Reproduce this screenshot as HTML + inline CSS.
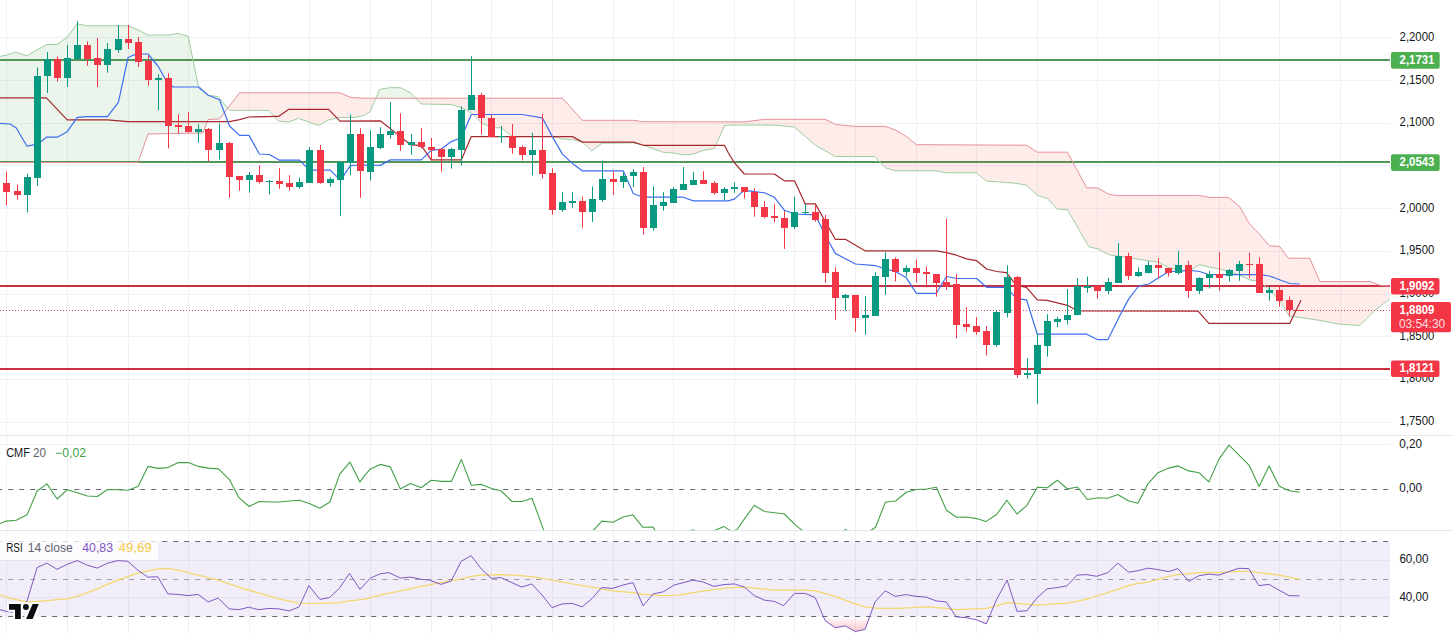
<!DOCTYPE html>
<html><head><meta charset="utf-8"><title>Chart</title>
<style>html,body{margin:0;padding:0;background:#fff}body{width:1453px;height:634px;overflow:hidden}svg{display:block}</style>
</head><body>
<svg width="1453" height="634" viewBox="0 0 1453 634" font-family="'Liberation Sans', sans-serif">
<rect width="1453" height="634" fill="#fff"/>
<defs>
<clipPath id="cmain"><rect x="0" y="0" width="1390" height="435"/></clipPath>
<clipPath id="ccmf"><rect x="0" y="436" width="1390" height="94.3"/></clipPath>
<clipPath id="crsi"><rect x="0" y="531" width="1390" height="103"/></clipPath>
<linearGradient id="os" x1="0" y1="616.4" x2="0" y2="636" gradientUnits="userSpaceOnUse"><stop offset="0" stop-color="#f23645" stop-opacity="0"/><stop offset="1" stop-color="#f23645" stop-opacity="0.36"/></linearGradient>
</defs>
<path d="M6.5 0V634 M67.5 0V634 M128.5 0V634 M188.5 0V634 M249.5 0V634 M309.5 0V634 M370.5 0V634 M431.5 0V634 M491.5 0V634 M552.5 0V634 M613.5 0V634 M673.5 0V634 M734.5 0V634 M794.5 0V634 M855.5 0V634 M916.5 0V634 M976.5 0V634 M1037.5 0V634 M1097.5 0V634 M1158.5 0V634 M1219.5 0V634 M1279.5 0V634 M1340.5 0V634 M0 37.5H1390 M0 80.5H1390 M0 123.5H1390 M0 165.5H1390 M0 208.5H1390 M0 251.5H1390 M0 294.5H1390 M0 336.5H1390 M0 379.5H1390 M0 422.5H1390 M0 444.5H1390 M0 560.5H1390 M0 597.5H1390" stroke="#eff1f4" stroke-width="1" fill="none"/>
<path d="M0 435.5H1453M0 530.5H1453" stroke="#e4e6ea" stroke-width="1" fill="none"/>
<rect x="0" y="541.5" width="1390" height="75" fill="#7e57c2" fill-opacity="0.1"/>
<rect x="0" y="59" width="1390" height="2" fill="#529658"/>
<rect x="0" y="161" width="1390" height="2" fill="#529658"/>
<rect x="0" y="285" width="1390" height="2" fill="#c93044"/>
<rect x="0" y="368" width="1390" height="2" fill="#c93044"/>
<g clip-path="url(#cmain)">
<polygon points="0.0,56.4 6.3,55.2 15.5,52.2 27.0,55.7 46.4,44.6 57.2,44.4 67.2,37.1 77.3,23.8 86.5,25.8 128.0,25.8 138.0,29.9 138.5,30.1 148.0,35.1 168.0,35.1 178.0,33.4 188.2,36.4 198.2,85.3 203.0,90.1 208.0,95.1 208.2,95.3 218.2,96.6 219.5,98.2 227.7,108.2 227.7,108.2 219.5,119.0 218.2,119.1 208.2,119.5 208.0,119.5 203.0,133.0 198.2,133.1 188.2,133.3 178.0,133.5 168.0,133.6 148.0,134.0 138.5,161.1 138.0,162.5 128.0,162.5 86.5,162.5 77.3,162.5 67.2,162.5 57.2,162.5 46.4,162.5 27.0,162.5 15.5,162.5 6.3,162.5 0.0,162.5" fill="#43a047" fill-opacity="0.1"/>
<polygon points="227.7,108.2 229.5,110.4 239.5,110.4 268.4,110.4 278.4,121.1 288.5,122.1 298.5,118.4 318.6,125.4 328.6,119.9 338.7,117.4 340.0,117.4 351.0,117.4 355.0,117.4 364.0,115.5 370.3,111.5 375.9,98.2 375.9,98.2 370.3,98.2 364.0,98.2 355.0,97.7 351.0,97.5 340.0,92.8 338.7,92.8 328.6,92.8 318.6,92.8 298.5,92.8 288.5,92.8 278.4,92.8 268.4,92.8 239.5,92.8 229.5,105.9 227.7,108.2" fill="#f44336" fill-opacity="0.1"/>
<polygon points="375.9,98.2 379.6,89.4 390.3,87.7 400.4,87.7 410.4,92.7 415.7,98.2 415.7,98.2 410.4,98.2 400.4,98.2 390.3,98.2 379.6,98.2 375.9,98.2" fill="#43a047" fill-opacity="0.1"/>
<polygon points="415.7,98.2 421.2,104.0 451.3,104.5 461.3,107.7 471.3,112.7 481.4,122.8 491.4,127.8 501.2,127.8 512.5,136.6 552.4,136.6 562.4,139.1 572.4,139.6 582.5,142.1 591.7,150.9 601.8,143.3 633.4,142.8 642.4,145.1 643.4,145.3 663.5,152.4 673.3,152.9 683.3,154.9 693.3,154.1 703.4,150.4 714.4,148.4 724.4,125.8 728.0,125.1 744.3,125.1 764.4,125.1 774.4,125.1 794.5,127.1 815.3,145.2 825.3,150.8 835.3,156.5 855.4,156.5 874.7,156.5 885.5,167.8 895.5,170.8 906.3,170.8 916.4,170.8 936.2,170.8 946.2,172.8 976.3,172.8 986.3,181.0 1016.4,183.3 1026.5,185.3 1037.3,195.3 1047.3,198.4 1057.3,209.1 1067.4,209.6 1086.7,243.0 1089.0,246.9 1097.8,248.9 1108.6,254.7 1116.6,255.9 1128.6,257.7 1148.7,260.9 1158.7,262.2 1168.8,267.7 1178.8,270.2 1188.8,271.0 1199.4,264.7 1208.9,267.1 1209.4,267.2 1219.4,269.0 1228.2,271.2 1229.5,271.5 1239.5,275.2 1249.5,279.8 1259.6,281.5 1269.6,289.8 1279.6,300.3 1288.4,314.5 1289.7,316.6 1299.7,317.4 1309.7,318.9 1319.8,320.4 1339.8,324.2 1359.9,325.4 1370.0,315.3 1374.9,310.4 1380.0,306.5 1389.5,299.1 1389.5,286.0 1380.0,285.3 1374.9,283.4 1370.0,281.5 1359.9,281.5 1339.8,281.5 1319.8,281.5 1309.7,258.2 1299.7,258.2 1289.7,258.2 1288.4,258.2 1279.6,246.4 1269.6,245.9 1259.6,234.4 1249.5,223.8 1239.5,206.3 1229.5,198.4 1228.2,197.4 1219.4,197.4 1209.4,197.4 1208.9,197.4 1199.4,195.4 1188.8,195.4 1178.8,195.4 1168.8,195.4 1158.7,195.4 1148.7,195.4 1128.6,195.4 1116.6,195.4 1108.6,194.2 1097.8,187.9 1089.0,187.9 1086.7,187.9 1067.4,152.2 1057.3,152.2 1047.3,152.2 1037.3,152.2 1026.5,145.2 1016.4,145.2 986.3,145.0 976.3,145.0 946.2,144.8 936.2,144.8 916.4,144.7 906.3,136.4 895.5,130.1 885.5,126.4 874.7,126.4 855.4,126.4 835.3,124.4 825.3,119.3 815.3,119.3 794.5,119.3 774.4,119.3 764.4,119.3 744.3,121.9 728.0,121.9 724.4,121.9 714.4,121.8 703.4,121.8 693.3,121.8 683.3,121.8 673.3,121.8 663.5,121.7 643.4,121.7 642.4,121.7 633.4,120.3 601.8,120.3 591.7,120.3 582.5,120.3 572.4,109.2 562.4,98.2 552.4,98.2 512.5,98.2 501.2,98.2 491.4,98.2 481.4,98.2 471.3,98.2 461.3,98.2 451.3,98.2 421.2,98.2 415.7,98.2" fill="#f44336" fill-opacity="0.1"/>
<polyline points="0.0,56.4 6.3,55.2 15.5,52.2 27.0,55.7 46.4,44.6 57.2,44.4 67.2,37.1 77.3,23.8 86.5,25.8 128.0,25.8 138.5,30.1 148.0,35.1 168.0,35.1 178.0,33.4 188.2,36.4 198.2,85.3 208.2,95.3 218.2,96.6 229.5,110.4 268.4,110.4 278.4,121.1 288.5,122.1 298.5,118.4 318.6,125.4 328.6,119.9 338.7,117.4 355.0,117.4 364.0,115.5 370.3,111.5 379.6,89.4 390.3,87.7 400.4,87.7 410.4,92.7 421.2,104.0 451.3,104.5 461.3,107.7 471.3,112.7 481.4,122.8 491.4,127.8 501.2,127.8 512.5,136.6 552.4,136.6 562.4,139.1 572.4,139.6 582.5,142.1 591.7,150.9 601.8,143.3 633.4,142.8 643.4,145.3 663.5,152.4 673.3,152.9 683.3,154.9 693.3,154.1 703.4,150.4 714.4,148.4 724.4,125.8 728.0,125.1 774.4,125.1 794.5,127.1 815.3,145.2 835.3,156.5 874.7,156.5 885.5,167.8 895.5,170.8 936.2,170.8 946.2,172.8 976.3,172.8 986.3,181.0 1016.4,183.3 1026.5,185.3 1037.3,195.3 1047.3,198.4 1057.3,209.1 1067.4,209.6 1086.7,243.0 1089.0,246.9 1097.8,248.9 1108.6,254.7 1128.6,257.7 1148.7,260.9 1158.7,262.2 1168.8,267.7 1178.8,270.2 1188.8,271.0 1199.4,264.7 1209.4,267.2 1219.4,269.0 1229.5,271.5 1239.5,275.2 1249.5,279.8 1259.6,281.5 1269.6,289.8 1279.6,300.3 1289.7,316.6 1299.7,317.4 1319.8,320.4 1339.8,324.2 1359.9,325.4 1374.9,310.4 1389.5,299.1" fill="none" stroke="#9dcea0" stroke-width="1"/>
<polyline points="0.0,162.5 138.0,162.5 148.0,134.0 203.0,133.0 208.0,119.5 219.5,119.0 239.5,92.8 340.0,92.8 351.0,97.5 364.0,98.2 562.4,98.2 582.5,120.3 633.4,120.3 642.4,121.7 744.3,121.9 764.4,119.3 825.3,119.3 835.3,124.4 855.4,126.4 885.5,126.4 895.5,130.1 906.3,136.4 916.4,144.7 1026.5,145.2 1037.3,152.2 1067.4,152.2 1086.7,187.9 1097.8,187.9 1108.6,194.2 1116.6,195.4 1199.4,195.4 1208.9,197.4 1228.2,197.4 1239.5,206.3 1249.5,223.8 1259.6,234.4 1269.6,245.9 1279.6,246.4 1288.4,258.2 1309.7,258.2 1319.8,281.5 1370.0,281.5 1380.0,285.3 1389.5,286.0" fill="none" stroke="#e5909a" stroke-width="1"/>
</g>
<path d="M0 310.5H1390" stroke="#c8485a" stroke-width="1" stroke-dasharray="1 2" fill="none"/>
<path d="M1293 310.5H1304" stroke="#e03545" stroke-width="1" fill="none"/>
<g clip-path="url(#cmain)">
<polyline points="0.0,97.8 46.4,97.8 67.2,119.8 107.4,119.8 128.0,121.6 229.5,121.6 239.5,119.7 249.0,117.0 278.4,116.4 288.5,109.4 328.6,109.4 340.0,121.2 380.3,120.8 400.4,136.6 410.4,144.8 421.2,145.3 431.2,159.9 461.3,159.9 471.3,136.6 572.4,136.6 582.5,142.1 633.4,142.1 643.4,145.3 724.4,145.3 728.0,152.2 734.3,162.7 744.3,174.0 774.4,174.0 784.4,180.8 794.5,180.8 805.3,203.9 815.3,203.9 835.3,239.3 845.4,239.3 865.4,250.9 936.4,250.9 946.5,252.7 956.5,255.2 966.5,258.9 976.6,260.7 986.6,269.0 996.6,271.5 1006.4,272.7 1016.4,285.3 1026.5,287.3 1037.3,299.8 1047.3,300.3 1067.4,305.3 1077.4,310.8 1198.1,311.1 1208.9,323.4 1289.7,323.4 1301.0,300.3" fill="none" stroke="#a5282d" stroke-width="1.2" stroke-linejoin="round"/>
<polyline points="0.0,123.4 10.0,124.0 16.3,128.0 27.0,146.2 37.6,144.2 46.4,137.2 57.2,137.2 67.2,131.7 77.3,117.4 86.5,116.6 107.4,116.6 118.4,102.3 128.0,57.7 133.0,55.2 138.5,54.0 148.0,54.0 158.3,66.5 165.6,79.8 173.0,87.0 198.2,87.0 208.2,95.3 219.5,99.8 229.5,126.0 239.5,135.4 249.0,135.4 259.4,154.0 269.4,154.5 279.4,160.2 299.5,160.2 309.3,170.2 330.3,170.2 340.4,180.3 350.4,165.7 360.4,165.0 380.3,165.4 390.3,159.9 421.2,159.9 431.2,150.4 441.3,149.1 451.3,141.6 461.3,137.8 471.3,114.5 522.0,114.5 542.3,117.8 552.4,136.6 562.4,154.1 572.4,163.4 582.5,170.9 623.3,170.9 633.4,193.7 643.4,197.2 683.3,197.2 693.3,200.9 728.0,200.9 734.3,199.1 744.3,190.3 754.3,191.6 764.4,192.8 774.4,197.3 784.4,210.2 794.5,214.0 815.3,214.8 825.3,235.5 835.3,253.4 855.4,264.0 875.5,265.7 885.5,269.0 895.5,271.5 906.3,277.8 916.4,293.3 936.4,293.3 946.5,276.5 956.5,278.5 976.6,278.5 986.6,287.3 1006.4,287.3 1016.4,298.3 1026.5,299.8 1037.3,334.2 1086.7,334.2 1097.8,339.7 1107.8,339.7 1118.6,317.9 1128.6,299.1 1138.7,286.0 1148.7,284.0 1158.7,277.8 1168.8,271.5 1178.8,271.5 1188.8,270.2 1199.4,271.5 1209.4,274.7 1259.6,274.7 1269.6,276.0 1279.6,279.8 1289.7,283.5 1299.7,284.0" fill="none" stroke="#3d6ff0" stroke-width="1.2" stroke-linejoin="round"/>
<path d="M27.5 173.5V212.4M37.5 67.5V185.8M47.5 52.0V93.0M67.5 45.0V87.0M77.5 21.3V59.4M107.5 43.0V72.7M118.5 25.0V52.7M158.5 74.2V110.4M198.5 124.2V142.6M219.5 123.3V159.5M249.5 172.0V192.7M269.5 180.0V194.5M299.5 177.5V188.8M309.5 147.0V182.6M330.5 177.2V186.6M340.5 161.5V216.2M350.5 114.4V175.2M370.5 130.3V180.5M380.5 127.3V149.1M390.5 102.2V138.6M411.5 134.0V154.9M451.5 147.9V168.7M461.5 106.5V165.4M471.5 56.2V110.2M501.5 126.0V142.8M532.5 132.8V175.4M562.5 192.1V211.7M572.5 192.1V207.7M592.5 186.4V222.0M602.5 160.5V201.7M623.5 172.2V188.0M633.5 169.0V187.0M653.5 186.4V230.8M663.5 192.1V210.7M673.5 187.1V202.7M683.5 167.1V189.6M693.5 172.1V184.6M724.5 187.1V200.2M734.5 182.3V192.8M794.5 196.6V229.2M805.5 204.1V214.2M845.5 294.0V310.4M865.5 296.0V334.7M875.5 272.2V315.9M885.5 252.2V294.8M906.5 265.2V276.5M996.5 310.4V346.7M1007.5 265.2V317.4M1027.5 358.3V378.6M1037.5 334.0V403.7M1047.5 314.2V356.6M1057.5 316.6V327.4M1067.5 289.0V324.7M1077.5 278.3V315.4M1087.5 276.5V292.8M1108.5 277.8V294.1M1118.5 243.1V282.8M1138.5 267.2V277.0M1148.5 260.9V273.5M1178.5 250.9V274.7M1199.5 277.3V294.1M1209.5 271.0V288.5M1229.5 269.0V281.5M1239.5 260.9V280.8M1269.5 286.5V300.8" stroke="#089981" stroke-width="1" fill="none"/>
<path d="M6.5 171.5V205.3M17.5 184.5V199.6M57.5 56.4V81.5M87.5 41.4V65.7M97.5 38.0V87.0M128.5 25.0V49.0M138.5 37.0V67.0M148.5 55.7V85.8M168.5 73.2V148.4M178.5 114.2V133.5M188.5 112.0V132.8M208.5 128.0V161.5M229.5 142.0V197.8M239.5 176.5V190.8M259.5 165.3V183.5M279.5 168.2V188.8M289.5 175.2V190.8M320.5 145.0V183.8M360.5 128.2V197.8M400.5 113.2V150.9M421.5 127.8V148.4M431.5 137.8V160.4M441.5 147.9V171.7M481.5 92.7V134.6M491.5 114.7V137.3M512.5 124.0V153.6M522.5 145.3V160.4M542.5 114.0V178.5M552.5 168.2V214.7M582.5 196.4V227.8M613.5 171.0V195.0M643.5 167.1V234.8M703.5 171.2V183.5M714.5 181.0V194.7M744.5 187.3V198.4M754.5 188.3V216.7M764.5 200.9V218.4M774.5 204.1V222.4M784.5 210.8V248.9M815.5 205.4V221.7M825.5 215.0V282.8M835.5 267.2V319.9M855.5 295.3V331.7M895.5 257.2V281.5M916.5 259.4V282.8M926.5 266.5V287.3M936.5 274.0V296.6M946.5 218.8V289.8M956.5 274.0V338.4M966.5 307.3V331.7M976.5 317.1V334.7M986.5 326.2V355.5M1017.5 276.0V377.8M1097.5 286.0V298.6M1128.5 252.7V279.8M1158.5 258.2V278.3M1168.5 268.2V276.5M1188.5 260.9V297.8M1219.5 252.2V290.8M1249.5 252.7V277.8M1259.5 257.2V292.8M1279.5 286.5V306.6M1289.5 296.6V315.9" stroke="#f23645" stroke-width="1" fill="none"/>
<path d="M24.0 177h7V195h-7zM34.0 76h7V178h-7zM44.0 59h7V76h-7zM64.0 58h7V78h-7zM74.0 45h7V59h-7zM104.0 49h7V65h-7zM115.0 39h7V50h-7zM155.0 78h7V80h-7zM195.0 129h7V132h-7zM216.0 143h7V150h-7zM246.0 175h7V180h-7zM266.0 181h7V182h-7zM296.0 182h7V187h-7zM306.0 150h7V183h-7zM327.0 179h7V183h-7zM337.0 162h7V180h-7zM347.0 134h7V163h-7zM367.0 147h7V172h-7zM377.0 134h7V148h-7zM387.0 131h7V135h-7zM408.0 142h7V145h-7zM448.0 149h7V157h-7zM458.0 110h7V150h-7zM468.0 95h7V110h-7zM498.0 136h7V137h-7zM529.0 150h7V155h-7zM559.0 202h7V210h-7zM569.0 201h7V203h-7zM589.0 199h7V212h-7zM599.0 179h7V200h-7zM620.0 176h7V182h-7zM630.0 172h7V176h-7zM650.0 205h7V228h-7zM660.0 202h7V206h-7zM670.0 189h7V203h-7zM680.0 184h7V190h-7zM690.0 180h7V185h-7zM721.0 189h7V193h-7zM731.0 187h7V189h-7zM791.0 212h7V227h-7zM802.0 212h7V213h-7zM842.0 295h7V298h-7zM862.0 315h7V318h-7zM872.0 276h7V316h-7zM882.0 259h7V277h-7zM903.0 268h7V272h-7zM993.0 312h7V345h-7zM1004.0 277h7V313h-7zM1024.0 373h7V375h-7zM1034.0 345h7V374h-7zM1044.0 321h7V346h-7zM1054.0 319h7V322h-7zM1064.0 315h7V320h-7zM1074.0 286h7V315h-7zM1084.0 286h7V288h-7zM1105.0 282h7V291h-7zM1115.0 256h7V283h-7zM1135.0 272h7V276h-7zM1145.0 265h7V273h-7zM1175.0 265h7V273h-7zM1196.0 278h7V291h-7zM1206.0 274h7V278h-7zM1226.0 270h7V276h-7zM1236.0 264h7V271h-7zM1266.0 290h7V293h-7z" fill="#089981"/>
<path d="M3.0 183h7V192h-7zM14.0 191h7V195h-7zM54.0 59h7V78h-7zM84.0 45h7V59h-7zM94.0 58h7V65h-7zM125.0 39h7V43h-7zM135.0 42h7V62h-7zM145.0 61h7V80h-7zM165.0 78h7V126h-7zM175.0 125h7V127h-7zM185.0 126h7V132h-7zM205.0 129h7V150h-7zM226.0 143h7V177h-7zM236.0 176h7V180h-7zM256.0 175h7V182h-7zM276.0 181h7V184h-7zM286.0 183h7V187h-7zM317.0 150h7V183h-7zM357.0 134h7V171h-7zM397.0 131h7V145h-7zM418.0 142h7V147h-7zM428.0 147h7V150h-7zM438.0 149h7V157h-7zM478.0 95h7V118h-7zM488.0 118h7V137h-7zM509.0 136h7V148h-7zM519.0 147h7V155h-7zM539.0 150h7V174h-7zM549.0 173h7V210h-7zM579.0 201h7V212h-7zM610.0 179h7V182h-7zM640.0 172h7V228h-7zM700.0 180h7V184h-7zM711.0 183h7V193h-7zM741.0 187h7V192h-7zM751.0 192h7V207h-7zM761.0 207h7V217h-7zM771.0 216h7V218h-7zM781.0 218h7V228h-7zM812.0 212h7V220h-7zM822.0 219h7V273h-7zM832.0 272h7V298h-7zM852.0 295h7V318h-7zM892.0 259h7V272h-7zM913.0 268h7V273h-7zM923.0 272h7V274h-7zM933.0 274h7V283h-7zM943.0 282h7V286h-7zM953.0 284h7V325h-7zM963.0 324h7V327h-7zM973.0 326h7V332h-7zM983.0 331h7V345h-7zM1014.0 277h7V375h-7zM1094.0 286h7V291h-7zM1125.0 256h7V276h-7zM1155.0 265h7V268h-7zM1165.0 268h7V273h-7zM1185.0 265h7V291h-7zM1216.0 274h7V278h-7zM1246.0 264h7V265h-7zM1256.0 264h7V293h-7zM1276.0 290h7V301h-7zM1286.0 300h7V310h-7z" fill="#f23645"/>
</g>
<path d="M0 489.5H1389" stroke="#676a75" stroke-width="1" stroke-dasharray="5 6" stroke-dashoffset="2.8" fill="none"/>
<g clip-path="url(#ccmf)"><polyline points="0.0,523.6 6.3,521.1 16.3,520.3 27.1,514.8 37.1,491.0 46.9,483.9 57.2,499.0 67.2,489.7 77.3,492.7 87.3,496.0 97.3,496.5 107.4,489.5 117.4,489.7 127.9,490.2 138.0,486.5 148.0,466.4 158.0,468.4 168.0,467.6 178.3,462.6 188.4,462.6 198.4,466.4 208.4,468.1 218.5,468.9 229.5,479.7 239.0,497.7 249.1,506.5 259.1,501.5 269.4,502.0 279.4,502.0 289.4,501.0 299.5,500.2 309.3,503.5 319.8,508.3 329.8,502.0 339.9,473.9 349.9,462.1 359.9,481.9 364.0,476.4 370.3,468.9 380.3,464.4 390.3,466.9 400.4,489.0 410.4,483.4 421.2,487.7 431.2,480.2 441.3,481.4 451.3,481.4 461.3,459.4 471.3,485.2 481.4,484.4 491.4,488.5 501.2,491.0 512.0,501.5 522.0,501.5 532.0,498.2 543.3,529.1 552.0,553.0 562.0,556.0 572.0,555.0 582.0,552.0 593.5,530.3 601.8,521.1 613.0,522.3 623.1,517.0 632.9,514.8 642.9,527.3 653.0,527.1 663.0,543.0 673.0,538.0 683.0,533.0 693.3,529.9 703.0,533.0 715.1,530.3 723.9,526.6 728.0,529.1 732.0,531.5 736.8,529.8 744.3,519.1 754.3,505.3 764.4,511.5 774.4,512.8 784.4,514.0 794.5,524.1 802.0,530.3 815.0,541.0 825.0,545.0 835.0,538.0 845.4,529.4 855.0,536.0 865.0,538.0 871.0,530.3 875.5,527.3 885.5,502.0 895.5,501.0 906.3,492.2 916.4,489.5 926.4,489.0 936.4,487.2 946.5,510.3 956.5,517.3 966.5,517.0 976.6,518.6 985.8,521.6 996.6,514.5 1006.9,500.2 1016.9,514.0 1027.0,505.3 1037.3,487.2 1047.3,487.7 1057.3,480.2 1067.4,489.0 1077.4,487.0 1087.4,499.5 1097.8,497.7 1107.8,498.2 1117.8,494.5 1128.6,501.0 1137.9,503.3 1147.9,483.9 1158.0,472.7 1168.8,468.1 1178.0,465.9 1188.8,470.9 1198.9,472.7 1208.9,481.9 1218.9,459.4 1229.0,445.1 1239.0,455.1 1249.0,465.1 1259.1,486.5 1269.1,465.9 1279.1,485.9 1285.9,489.5 1290.9,491.0 1299.7,492.2" fill="none" stroke="#43a047" stroke-width="1.1" stroke-linejoin="round"/></g>
<path d="M0 541.5H1389M0 616.5H1389" stroke="#676a75" stroke-width="1" stroke-dasharray="5 6" stroke-dashoffset="2.8" fill="none"/>
<path d="M0 579.5H1389" stroke="#9a9ca6" stroke-width="1" stroke-dasharray="5 6" stroke-dashoffset="2.8" fill="none"/>
<g clip-path="url(#crsi)">
<polygon points="0.0,616.4 0.0,616.4 6.3,616.4 16.3,616.4 27.1,616.4 37.1,616.4 46.8,616.4 57.1,616.4 67.1,616.4 77.2,616.4 87.2,616.4 97.2,616.4 107.2,616.4 117.7,616.4 127.8,616.4 137.8,616.4 147.8,616.4 157.8,616.4 167.8,616.4 178.1,616.4 188.1,616.4 198.1,616.4 208.2,616.4 218.2,616.4 229.2,616.4 238.7,616.4 248.7,616.4 258.8,616.4 269.0,616.4 279.1,616.4 289.1,616.4 299.1,616.4 308.9,616.4 319.9,616.4 329.4,616.4 339.4,616.4 349.4,616.4 360.0,616.4 364.0,616.4 370.3,616.4 380.3,616.4 389.0,616.4 400.3,616.4 410.3,616.4 421.1,616.4 429.6,616.4 441.2,616.4 451.2,616.4 461.2,616.4 471.2,616.4 481.2,616.4 491.3,616.4 501.0,616.4 511.8,616.4 521.8,616.4 531.8,616.4 542.1,616.4 552.1,616.4 562.1,616.4 572.2,616.4 582.2,616.4 592.2,616.4 601.5,616.4 612.7,616.4 622.8,616.4 633.0,616.4 643.1,616.4 653.1,616.4 663.1,616.4 673.9,616.4 683.4,616.4 692.9,616.4 702.9,616.4 713.9,616.4 724.0,616.4 734.3,616.4 744.3,616.4 754.3,616.4 764.3,616.4 774.3,616.4 783.6,616.4 794.4,616.4 805.2,616.4 815.2,616.4 823.3,616.4 825.2,620.7 835.2,627.7 845.2,625.9 855.3,631.5 865.0,629.4 869.8,616.4 875.3,616.4 885.3,616.4 895.3,616.4 906.1,616.4 916.1,616.4 926.1,616.4 936.2,616.4 946.2,616.4 955.9,616.4 956.2,616.9 966.2,617.7 976.2,619.7 986.3,623.9 989.5,616.4 996.3,616.4 1007.1,616.4 1017.1,616.4 1027.1,616.4 1036.9,616.4 1046.9,616.4 1056.9,616.4 1066.9,616.4 1077.0,616.4 1086.2,616.4 1096.5,616.4 1107.8,616.4 1117.8,616.4 1128.6,616.4 1137.8,616.4 1147.9,616.4 1157.9,616.4 1168.7,616.4 1177.9,616.4 1188.7,616.4 1198.7,616.4 1208.7,616.4 1218.8,616.4 1228.8,616.4 1238.8,616.4 1248.8,616.4 1258.8,616.4 1268.9,616.4 1278.9,616.4 1288.9,616.4 1299.4,616.4 1299.4,616.4" fill="url(#os)"/>
<polyline points="0.0,595.1 10.0,598.1 27.1,601.9 37.6,601.4 67.1,598.9 77.2,596.4 97.2,588.9 117.7,580.1 137.8,573.1 157.8,568.8 167.8,568.3 178.1,570.1 198.1,575.1 218.2,580.1 238.7,587.1 258.8,593.1 279.1,598.9 299.1,603.1 319.9,603.4 339.4,602.6 349.4,600.9 364.0,599.4 380.3,595.1 400.3,590.9 421.1,586.4 441.2,582.6 461.2,578.8 471.2,576.3 481.2,575.1 501.0,574.6 514.3,575.1 534.3,576.8 552.1,580.1 572.2,583.9 592.2,587.1 612.7,590.9 633.0,592.6 643.1,594.4 663.1,595.6 679.6,595.1 692.9,592.6 713.9,589.6 728.0,587.8 744.3,587.1 774.3,590.1 805.2,590.1 815.2,590.9 835.2,596.4 855.3,603.9 865.0,606.9 878.3,608.4 898.3,608.4 926.1,606.9 946.2,608.4 956.2,609.7 986.3,608.4 996.3,605.9 1007.1,602.6 1017.1,603.4 1036.9,605.2 1066.9,603.1 1077.0,601.4 1089.0,598.5 1107.8,592.6 1128.6,585.6 1137.8,583.4 1147.9,582.1 1168.7,576.3 1177.9,574.6 1198.7,572.6 1218.8,572.6 1238.8,571.3 1248.8,571.3 1258.8,572.6 1278.9,575.1 1299.4,579.3" fill="none" stroke="#f3d86e" stroke-width="1.3" stroke-linejoin="round"/>
<polyline points="0.0,609.7 6.3,611.4 16.3,612.5 27.1,600.9 37.1,567.6 46.8,563.1 57.1,569.3 67.1,564.3 77.2,560.6 87.2,565.1 97.2,568.1 107.2,563.3 117.7,560.6 127.8,561.3 137.8,570.1 147.8,577.1 157.8,576.8 167.8,593.9 178.1,594.4 188.1,595.6 198.1,594.4 208.2,601.9 218.2,598.1 229.2,608.9 238.7,609.7 248.7,607.2 258.8,609.7 269.0,608.4 279.1,608.9 289.1,610.9 299.1,606.9 308.9,585.6 319.9,599.4 329.4,597.6 339.4,588.4 349.4,573.3 360.0,589.4 364.0,585.1 370.3,578.1 380.3,573.8 389.0,572.6 400.3,578.1 410.3,577.1 421.1,579.3 429.6,580.1 441.2,584.4 451.2,580.9 461.2,561.3 471.2,555.6 481.2,568.8 491.3,578.3 501.0,577.6 511.8,582.6 521.8,587.1 531.8,583.9 542.1,595.1 552.1,607.7 562.1,603.9 572.2,603.4 582.2,606.9 592.2,598.4 601.5,587.6 612.7,588.4 622.8,585.1 633.0,582.6 643.1,605.9 653.1,593.9 663.1,591.9 673.9,585.1 683.4,582.6 692.9,580.1 702.9,581.9 713.9,586.4 724.0,584.6 734.3,583.9 744.3,587.1 754.3,595.6 764.3,600.1 774.3,601.4 783.6,605.7 794.4,593.4 805.2,593.4 815.2,597.6 825.2,620.7 835.2,627.7 845.2,625.9 855.3,631.5 865.0,629.4 875.3,601.4 885.3,590.9 895.3,596.4 906.1,594.6 916.1,596.4 926.1,597.1 936.2,600.9 946.2,601.9 956.2,616.9 966.2,617.7 976.2,619.7 986.3,623.9 996.3,600.1 1007.1,580.1 1017.1,611.4 1027.1,610.7 1036.9,598.1 1046.9,588.9 1056.9,587.6 1066.9,585.9 1077.0,575.1 1086.2,574.6 1096.5,576.3 1107.8,572.6 1117.8,563.1 1128.6,572.1 1137.8,570.8 1147.9,568.1 1157.9,569.6 1168.7,571.6 1177.9,568.6 1188.7,581.4 1198.7,575.8 1208.7,574.1 1218.8,575.1 1228.8,571.6 1238.8,568.3 1248.8,568.6 1258.8,585.6 1268.9,584.4 1278.9,590.1 1288.9,595.6 1299.4,595.9" fill="none" stroke="#7e57c2" stroke-width="1" stroke-linejoin="round"/>
</g>
<rect x="0" y="540.5" width="158" height="19.5" fill="#fff" fill-opacity="0.75"/>
<text x="6.2" y="456.7" font-size="12" fill="#131722" textLength="23.7" lengthAdjust="spacingAndGlyphs">CMF</text>
<text x="33" y="456.7" font-size="12" fill="#5d606b" textLength="13" lengthAdjust="spacingAndGlyphs">20</text>
<text x="55.1" y="456.7" font-size="12" fill="#43a047" textLength="30.9" lengthAdjust="spacingAndGlyphs">−0,02</text>
<text x="6.2" y="551.6" font-size="12" fill="#131722" textLength="16.5" lengthAdjust="spacingAndGlyphs">RSI</text>
<text x="27.8" y="551.6" font-size="12" fill="#5d606b" textLength="44.9" lengthAdjust="spacingAndGlyphs">14 close</text>
<text x="82.3" y="551.6" font-size="12" fill="#7e57c2" textLength="30.7" lengthAdjust="spacingAndGlyphs">40,83</text>
<text x="118.7" y="551.6" font-size="12" fill="#f6c944" textLength="32.9" lengthAdjust="spacingAndGlyphs">49,69</text>
<text x="1399.6" y="40.8" font-size="12" fill="#131722" textLength="34.7" lengthAdjust="spacingAndGlyphs">2,2000</text>
<text x="1399.6" y="83.5" font-size="12" fill="#131722" textLength="34.7" lengthAdjust="spacingAndGlyphs">2,1500</text>
<text x="1399.6" y="126.2" font-size="12" fill="#131722" textLength="34.7" lengthAdjust="spacingAndGlyphs">2,1000</text>
<text x="1399.6" y="211.5" font-size="12" fill="#131722" textLength="34.7" lengthAdjust="spacingAndGlyphs">2,0000</text>
<text x="1399.6" y="254.2" font-size="12" fill="#131722" textLength="34.7" lengthAdjust="spacingAndGlyphs">1,9500</text>
<text x="1399.6" y="296.9" font-size="12" fill="#131722" textLength="34.7" lengthAdjust="spacingAndGlyphs">1,9000</text>
<text x="1399.6" y="339.6" font-size="12" fill="#131722" textLength="34.7" lengthAdjust="spacingAndGlyphs">1,8500</text>
<text x="1399.6" y="382.2" font-size="12" fill="#131722" textLength="34.7" lengthAdjust="spacingAndGlyphs">1,8000</text>
<text x="1399.6" y="424.9" font-size="12" fill="#131722" textLength="34.7" lengthAdjust="spacingAndGlyphs">1,7500</text>
<text x="1399.2" y="447.9" font-size="12" fill="#131722" textLength="22.8" lengthAdjust="spacingAndGlyphs">0,20</text>
<text x="1399.2" y="491.7" font-size="12" fill="#131722" textLength="22.8" lengthAdjust="spacingAndGlyphs">0,00</text>
<text x="1399.4" y="562.6" font-size="12" fill="#131722" textLength="29.1" lengthAdjust="spacingAndGlyphs">60,00</text>
<text x="1399.4" y="600.9" font-size="12" fill="#131722" textLength="29.1" lengthAdjust="spacingAndGlyphs">40,00</text>
<rect x="1391" y="52" width="48.7" height="16.8" rx="2" fill="#4caf50"/>
<text x="1399.6" y="63.7" font-size="12" fill="#fff" font-weight="bold" textLength="34.8" lengthAdjust="spacingAndGlyphs">2,1731</text>
<rect x="1391" y="154.2" width="48.7" height="16.8" rx="2" fill="#4caf50"/>
<text x="1399.6" y="165.9" font-size="12" fill="#fff" font-weight="bold" textLength="34.8" lengthAdjust="spacingAndGlyphs">2,0543</text>
<rect x="1391" y="278" width="48.5" height="16.6" rx="2" fill="#f23645"/>
<text x="1399.6" y="289.7" font-size="12" fill="#fff" font-weight="bold" textLength="34.8" lengthAdjust="spacingAndGlyphs">1,9092</text>
<rect x="1391" y="302" width="60" height="30.3" rx="2" fill="#f23645"/>
<text x="1399.6" y="313.7" font-size="12" fill="#fff" font-weight="bold" textLength="34.8" lengthAdjust="spacingAndGlyphs">1,8809</text>
<text x="1398.9" y="327.5" font-size="12" fill="#fff" fill-opacity="0.85" textLength="46.2" lengthAdjust="spacingAndGlyphs">03:54:30</text>
<rect x="1391" y="360.6" width="48.5" height="16.4" rx="2" fill="#f23645"/>
<text x="1399.6" y="372.3" font-size="12" fill="#fff" font-weight="bold" textLength="34.8" lengthAdjust="spacingAndGlyphs">1,8121</text>
<g fill="#fff" stroke="#fff" stroke-width="4" stroke-linejoin="round"><path d="M9 604h11.8v14.9h-5.75v-9.1h-6.05z"/><circle cx="25.9" cy="607" r="2.95"/><path d="M32.65 604h6.15l-6.15 14.9h-6.55z"/></g>
<g fill="#0b0c10"><path d="M9 604h11.8v14.9h-5.75v-9.1h-6.05z"/><circle cx="25.9" cy="607" r="2.95"/><path d="M32.65 604h6.15l-6.15 14.9h-6.55z"/></g>
</svg>
</body></html>
